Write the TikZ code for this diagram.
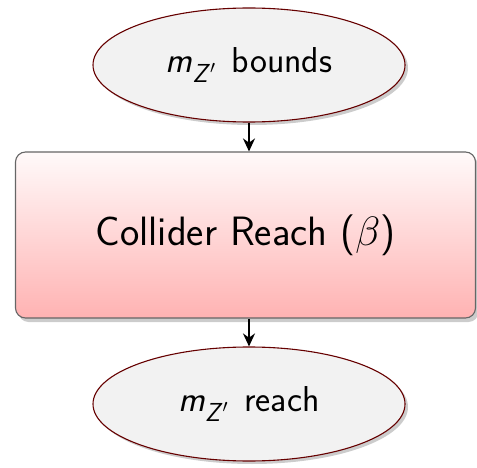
\RequirePackage{fix-cm}
\documentclass[tikz,border=0pt]{standalone}
\usepackage{amsmath}
\usepackage{fontspec}
\usetikzlibrary{shapes.geometric,shadows,arrows.meta}
% sans-serif italic m with subscript Z-prime
\newcommand{\mzp}{\textit{m}\raisebox{-0.28em}{\fontsize{26}{30}\selectfont\itshape Z\/$'$}\hspace{0.45em}}
\begin{document}
\begin{tikzpicture}[x=1pt,y=-1pt,
  endpoint/.style={ellipse, draw=red!40!black, fill=gray!10, line width=1.1pt,
    minimum width=312pt, minimum height=114pt, inner sep=0pt,
    drop shadow={shadow xshift=3pt, shadow yshift=-3pt, opacity=0.4},
    font=\sffamily\fontsize{36}{42}\selectfont},
  stage/.style={rectangle, rounded corners=10pt, draw=gray!80!black, line width=1.1pt,
    top color=red!2, bottom color=red!30,
    minimum width=460pt, minimum height=166pt, inner sep=0pt,
    drop shadow={shadow xshift=3pt, shadow yshift=-4pt, opacity=0.4},
    font=\sffamily\fontsize{41}{48}\selectfont},
  flow/.style={-{Stealth[length=13pt,width=12pt]}, line width=1.8pt}]
\useasboundingbox (0,0) rectangle (477,468);
\node[endpoint] (bounds) at (249,65) {\mzp bounds};
\node[stage] (reach) at (245.5,235) {Collider Reach ($\beta$)};
\node[endpoint] (out) at (249,404) {\mzp reach};
\draw[flow] (bounds) -- (bounds |- reach.north);
\draw[flow] (reach.south -| out) -- (out);
\end{tikzpicture}
\end{document}
